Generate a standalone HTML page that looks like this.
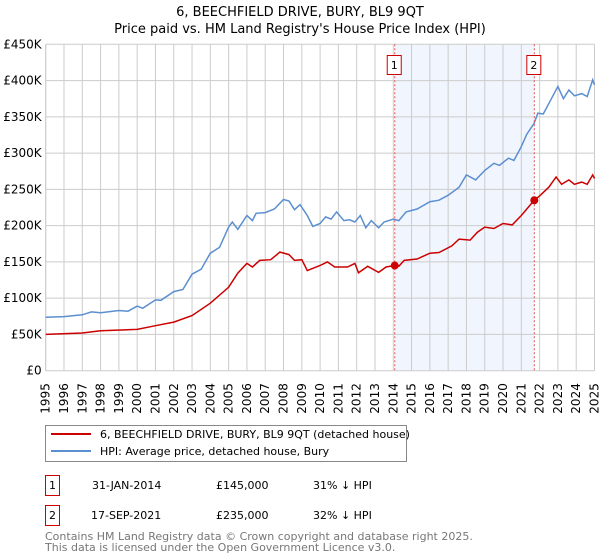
<!DOCTYPE html>
<html><head><meta charset="utf-8"><style>
body{margin:0;width:600px;height:560px;background:#fff;font-family:"Liberation Sans","DejaVu Sans",sans-serif;overflow:hidden}
svg{position:absolute;left:0;top:0}
</style></head><body>
<svg width="600" height="560" id="c">
<text x="300" y="16" text-anchor="middle" font-size="13" fill="#000" font-family="DejaVu Sans,sans-serif">6, BEECHFIELD DRIVE, BURY, BL9 9QT</text>
<text x="300" y="33" text-anchor="middle" font-size="13" fill="#000" font-family="DejaVu Sans,sans-serif">Price paid vs. HM Land Registry's House Price Index (HPI)</text>
<g id="grid"></g><g id="marks"></g>
<g>
<rect x="45.5" y="425.5" width="361" height="36" fill="#fff" stroke="#888"/>
<line x1="51" y1="434" x2="91" y2="434" stroke="#cc0000" stroke-width="2"/>
<text x="100" y="438" font-size="11" font-family="DejaVu Sans,sans-serif">6, BEECHFIELD DRIVE, BURY, BL9 9QT (detached house)</text>
<line x1="51" y1="451" x2="91" y2="451" stroke="#5b8fd0" stroke-width="2"/>
<text x="100" y="455" font-size="11" font-family="DejaVu Sans,sans-serif">HPI: Average price, detached house, Bury</text>
</g>
<g font-size="11" font-family="DejaVu Sans,sans-serif">
<rect x="45.5" y="475.5" width="14" height="20" fill="#fff" stroke="#cc0000"/><text x="52.5" y="489" text-anchor="middle">1</text>
<text x="92" y="489">31-JAN-2014</text><text x="216" y="489">£145,000</text><text x="313" y="489">31% ↓ HPI</text>
<rect x="45.5" y="505.5" width="14" height="20" fill="#fff" stroke="#cc0000"/><text x="52.5" y="519" text-anchor="middle">2</text>
<text x="91" y="519">17-SEP-2021</text><text x="216" y="519">£235,000</text><text x="313" y="519">32% ↓ HPI</text>
</g>
<text x="45" y="540" font-size="11" fill="#777" font-family="DejaVu Sans,sans-serif">Contains HM Land Registry data © Crown copyright and database right 2025.</text>
<text x="45" y="551" font-size="11" fill="#777" font-family="DejaVu Sans,sans-serif">This data is licensed under the Open Government Licence v3.0.</text>
</svg>
<script>
const hpiYears=[1995,1996,1997,1997.5,1998,1999,1999.5,2000,2000.3,2001,2001.3,2002,2002.5,2003,2003.5,2004,2004.5,2005,2005.2,2005.5,2006,2006.3,2006.5,2007,2007.5,2008,2008.3,2008.6,2008.9,2009.3,2009.6,2010,2010.3,2010.6,2010.9,2011.3,2011.6,2011.9,2012.2,2012.5,2012.8,2013.2,2013.5,2014,2014.3,2014.7,2015.3,2016,2016.5,2017,2017.6,2018,2018.5,2019,2019.5,2019.8,2020.3,2020.6,2021,2021.3,2021.7,2021.9,2022.2,2022.6,2023,2023.3,2023.6,2023.9,2024.3,2024.6,2024.9,2025];
const hpiValues=[73.7,74.6,77,81,80,83,82,89,86,97.6,97,109,112,133,140,162,170,198,205,195,214,207,217,218,223,236,234,222,229,214,199,203,212,209,219,207,208,205,214,197,207,197,205,209,207,219,223,233,235,242,253,270,263,276,286,283,293,290,309,326,341,355,354,373,392,375,387,379,382,378,401,394];
const priceYears=[1995,1997,1998,2000,2001,2002,2003,2004,2005,2005.5,2006,2006.3,2006.7,2007.3,2007.8,2008.3,2008.6,2009,2009.3,2010,2010.4,2010.8,2011.5,2011.9,2012.1,2012.6,2013.2,2013.6,2014.08,2014.3,2014.6,2015.3,2016,2016.5,2017.2,2017.6,2018.2,2018.6,2019,2019.5,2020,2020.5,2021,2021.71,2022,2022.5,2022.9,2023.2,2023.6,2023.9,2024.3,2024.6,2024.9,2025];
const priceValues=[50,52,55,57,62,67,76,93,115,134.5,148,143,152,153,163.5,160,152,153,138,145,150,143,143,148,135,144,135.5,143,145,144,152,154,162,163,172,181.5,180,191,198,196,203,201,214,235,241,253,267,257,263,257,260,257,270,265];
const sales=[{n:"1",t:2014.08,v:145},{n:"2",t:2021.71,v:235}];
const yTicks=[0,50,100,150,200,250,300,350,400,450];
const yTickLabels=["£0","£50K","£100K","£150K","£200K","£250K","£300K","£350K","£400K","£450K"];
const xTicks=[1995,1996,1997,1998,1999,2000,2001,2002,2003,2004,2005,2006,2007,2008,2009,2010,2011,2012,2013,2014,2015,2016,2017,2018,2019,2020,2021,2022,2023,2024,2025];

const NS="http://www.w3.org/2000/svg";
const L=45.7,R=594.5,T=44.3,B=370.7;
const X=y=>L+(y-1995)/30*(R-L);
const Y=v=>B-v/450*(B-T);
function mk(tag,attrs,parent){const e=document.createElementNS(NS,tag);for(const k in attrs)e.setAttribute(k,attrs[k]);parent.appendChild(e);return e;}
const grid=document.getElementById('grid'),marks=document.getElementById('marks');
const shade=mk('rect',{x:X(sales[0].t),y:T,width:X(sales[1].t)-X(sales[0].t),height:B-T,fill:'#eef3fc',opacity:0.8},grid);


yTicks.forEach((v,i)=>{
 const l=mk('line',{x1:L,x2:R,y1:Y(v),y2:Y(v),stroke:'#ccc'},grid);
 
 
 const t=mk('text',{x:L-4,y:Y(v)+4,'text-anchor':'end','font-size':12,'font-family':'DejaVu Sans,sans-serif'},grid);
 t.textContent=yTickLabels[i];
 
 
});
xTicks.forEach(yr=>{
 const l=mk('line',{x1:X(yr),x2:X(yr),y1:T,y2:B,stroke:'#ccc'},grid);
 
 
 const t=mk('text',{x:0,y:0,transform:`translate(${X(yr)+4},${B+43}) rotate(-90)`,'font-size':12,'font-family':'DejaVu Sans,sans-serif'},grid);
 t.textContent=yr;
 
 
});
mk('line',{x1:L,x2:L,y1:T,y2:B,stroke:'#ccc'},grid);
function line(xs,vs,col,name){
 const p=mk('path',{d:xs.map((x,i)=>(i?'L':'M')+X(x).toFixed(1)+','+Y(vs[i]).toFixed(1)).join(''),fill:'none',stroke:col,'stroke-width':1.5},marks);
 
 
}
line(hpiYears,hpiValues,'#5b8fd0','hpi-line');
line(priceYears,priceValues,'#cc0000','price-line');
sales.forEach(s=>{
 const v=mk('line',{x1:X(s.t),x2:X(s.t),y1:T,y2:B,stroke:'#e05555','stroke-dasharray':'2,2'},marks);
 
 
 const d=mk('circle',{cx:X(s.t),cy:Y(s.v),r:4,fill:'#cc0000'},marks);
 
 
 const bx=mk('rect',{x:X(s.t)-7.5,y:55.5,width:14,height:19,fill:'#fff',stroke:'#cc0000'},marks);
 
 
 const tx=mk('text',{x:X(s.t)-0.5,y:69,'text-anchor':'middle','font-size':11,'font-family':'DejaVu Sans,sans-serif'},marks);
 tx.textContent=s.n;
 
 
});
</script>
</body></html>
